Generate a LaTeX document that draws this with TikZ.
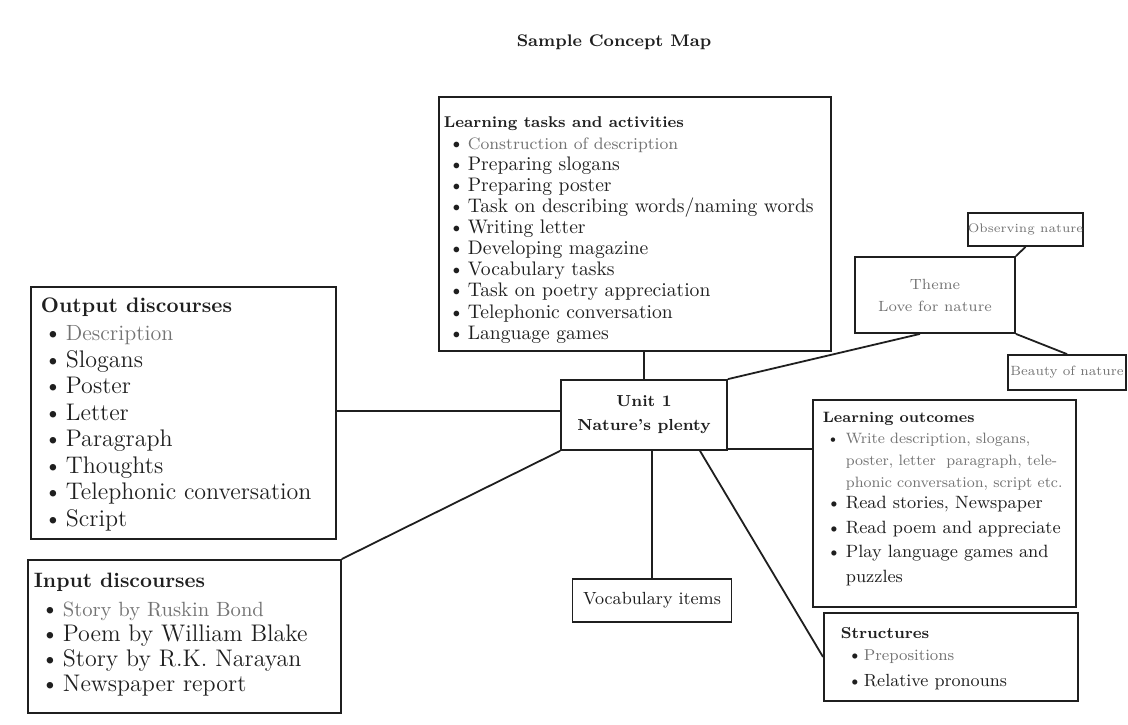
\documentclass[tikz,border=0pt]{standalone}
\usepackage{tikz}
\usetikzlibrary{calc}
\colorlet{ink}{black!88}
\colorlet{faint}{black!55}
\newcommand\li[3]{\hspace*{#1}\makebox[#2][l]{\textbullet}{#3}\par}
\newcommand\fz[2]{\fontsize{#1}{#2}\selectfont}
\tikzset{
  box/.style={draw=ink, line width=0.9pt, inner sep=0pt, anchor=north west, text=ink},
  sbox/.style={draw=ink, line width=0.9pt, inner sep=0pt, align=center, text=ink},
  link/.style={draw=ink, line width=0.9pt},
}
\begin{document}
\begin{tikzpicture}[x=0.5pt,y=-0.5pt]
\useasboundingbox (0,0) rectangle (1128,724);

% title
\node[text=ink, font={\fz{8.4}{10}\bfseries}] (title) at (614,42) {Sample Concept Map};

% learning tasks and activities
\node[box] (lta) at (438,96) {\parbox[c][127pt][t]{196pt}{\leftskip=2.5pt\relax
\vspace*{10.1pt}%
{\fz{7.8}{9}\bfseries Learning tasks and activities\par}
\vspace{0.1pt}
\fz{9.8}{10.55}%
\li{2.5pt}{9.5pt}{\color{faint}\fz{8.3}{10.55}Construction of description}
\li{2.5pt}{9.5pt}{Preparing slogans}
\li{2.5pt}{9.5pt}{Preparing poster}
\li{2.5pt}{9.5pt}{Task on describing words/naming words}
\li{2.5pt}{9.5pt}{Writing letter}
\li{2.5pt}{9.5pt}{Developing magazine}
\li{2.5pt}{9.5pt}{Vocabulary tasks}
\li{2.5pt}{9.5pt}{Task on poetry appreciation}
\li{2.5pt}{9.5pt}{Telephonic conversation}
\li{2.5pt}{9.5pt}{Language games}
}};

% output discourses
\node[box] (out) at (30,286) {\parbox[c][126pt][t]{152.5pt}{\leftskip=5pt\relax
\vspace*{5.7pt}%
{\fz{10.5}{12}\bfseries Output discourses\par}
\vspace{0.75pt}
\fz{12}{13.25}%
\li{1.5pt}{11pt}{\color{faint}\fz{11}{13.25}Description}
\li{1.5pt}{11pt}{Slogans}
\li{1.5pt}{11pt}{Poster}
\li{1.5pt}{11pt}{Letter}
\li{1.5pt}{11pt}{Paragraph}
\li{1.5pt}{11pt}{Thoughts}
\li{1.5pt}{11pt}{Telephonic conversation}
\li{1.5pt}{11pt}{Script}
}};

% input discourses
\node[box] (inp) at (27,559) {\parbox[c][76.5pt][t]{156.5pt}{\leftskip=3pt\relax
\vspace*{6.8pt}%
{\fz{10.4}{12}\bfseries Input discourses\par}
\vspace{2pt}
\fz{12}{12.5}%
\li{3.5pt}{11pt}{\color{faint}\fz{10.3}{12.5}Story by Ruskin Bond}
\li{3.5pt}{11pt}{Poem by William Blake}
\li{3.5pt}{11pt}{Story by R.K. Narayan}
\li{3.5pt}{11pt}{Newspaper report}
}};

% learning outcomes
\node[box] (lo) at (812,399) {\parbox[c][103.5pt][t]{131.5pt}{\leftskip=5pt\relax
\vspace*{6pt}%
{\fz{7.5}{9}\bfseries Learning outcomes\par}
\vspace{-0.5pt}
{\fz{7.5}{11}\li{2pt}{9.5pt}{\color{faint}Write description, slogans,}
\hspace*{11.5pt}{\color{faint}poster, letter\ \ paragraph, tele-}\par
\hspace*{11.5pt}{\color{faint}phonic conversation, script etc.}\par}
\vspace{-1.9pt}
\fz{8.9}{12.4}%
\li{2pt}{9.5pt}{Read stories, Newspaper}
\li{2pt}{9.5pt}{Read poem and appreciate}
\li{2pt}{9.5pt}{Play language games and}
\hspace*{11.5pt}puzzles\par
}};

% structures
\node[box] (str) at (823,612) {\parbox[c][44pt][t]{127pt}{\leftskip=8.5pt\relax
\vspace*{7.5pt}%
{\fz{7.9}{9}\bfseries Structures\par}
\vspace{-2pt}
\fz{8.8}{13}%
\li{3.5pt}{8pt}{\color{faint}\fz{7.9}{13}Prepositions}
\li{3.5pt}{8pt}{Relative pronouns}
}};

% central unit
\node[sbox, minimum width=83pt, minimum height=35pt, font={\fz{8}{12}\bfseries}] (unit) at (644,415) {Unit 1\\Nature's plenty};

% vocabulary items
\node[sbox, minimum width=79.5pt, minimum height=21.5pt, font={\fz{8.8}{10}}] (voc) at (652,600.5) {Vocabulary items};

% theme and its branches
\node[sbox, minimum width=80pt, minimum height=38pt, text=faint, font={\fz{7.4}{11}}] (theme) at (935,295) {Theme\\Love for nature};
\node[sbox, minimum width=57.5pt, minimum height=16.5pt, text=faint, font={\fz{6.2}{8}}] (obs) at (1025.5,229.5) {Observing nature};
\node[sbox, minimum width=59pt, minimum height=17.5pt, text=faint, font={\fz{6.7}{8}}] (beauty) at (1067,372.5) {Beauty of nature};

% connectors
\draw[link] (unit.north) -- (unit.north |- lta.south);
\coordinate (uL) at ([yshift=2pt]unit.west);
\draw[link] (uL) -- (out.east |- uL);
\draw[link] (unit.south west) -- (inp.north east);
\draw[link] (voc.north) -- (voc.north |- unit.south);
\draw[link] ([xshift=28pt]unit.south) -- (str.west);
\coordinate (uR) at ([yshift=1pt]unit.south east);
\draw[link] (uR) -- (lo.west |- uR);
\draw[link] (unit.north east) -- ([xshift=-7.5pt]theme.south);
\draw[link] (theme.north east) -- (obs.south);
\draw[link] (theme.south east) -- (beauty.north);
\end{tikzpicture}
\end{document}
